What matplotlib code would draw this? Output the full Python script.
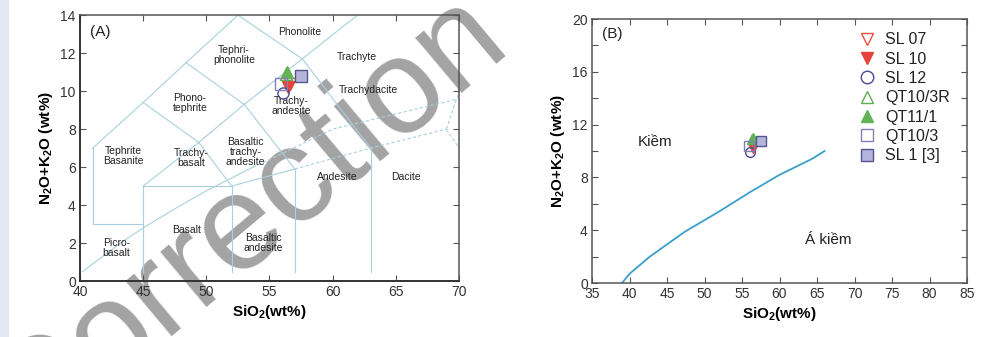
import matplotlib
matplotlib.use("Agg")
import matplotlib.pyplot as plt
from matplotlib.patches import Rectangle
from matplotlib.lines import Line2D

plt.rcParams['font.family'] = ['Liberation Sans', 'DejaVu Sans']
plt.rcParams['mathtext.fontset'] = 'custom'
plt.rcParams['mathtext.rm'] = 'Liberation Sans'
plt.rcParams['mathtext.bf'] = 'Liberation Sans:bold'

# ---------------- data ----------------
samples = ['SL 07', 'SL 10', 'SL 12', 'QT10/3R', 'QT11/1', 'QT10/3', 'SL 1 [3]']
sio2 = [56.6, 56.5, 56.1, 56.3, 56.4, 55.9, 57.5]
alkali = [10.4, 10.2, 9.9, 10.9, 11.0, 10.4, 10.8]

# TAS (Le Bas) field boundaries, panel A
tas_solid = [
    [(41, 3), (41, 7)], [(41, 3), (45, 3)], [(45, 0.5), (45, 5)], [(45, 5), (52, 5)],
    [(52, 0.5), (52, 5)], [(52, 5), (57, 5.9)], [(57, 0.5), (57, 5.9)], [(63, 0.5), (63, 7)],
    [(45, 5), (49.4, 7.3)], [(49.4, 7.3), (52, 5)], [(49.4, 7.3), (53, 9.3)],
    [(53, 9.3), (57, 5.9)], [(53, 9.3), (57.6, 11.7)], [(57.6, 11.7), (63, 7)],
    [(41, 7), (45, 9.4)], [(45, 9.4), (49.4, 7.3)], [(45, 9.4), (48.4, 11.5)],
    [(48.4, 11.5), (53, 9.3)], [(48.4, 11.5), (52.5, 14)], [(52.5, 14), (57.6, 11.7)],
    [(57.6, 11.7), (61, 13.5), (62, 14)],
]
tas_dashed = [
    [(57, 5.9), (63, 7), (69, 8)], [(69, 8), (71.8, 13.5)], [(69, 8), (77, 0)],
]
# Irvine & Baragar alkaline / sub-alkaline divide (panel A)
irvine_a_x = [40.2, 43.2, 45, 48, 50, 53.7, 55, 60, 65, 70]
irvine_a_y = [0.5, 2.0, 2.8, 4.0, 4.75, 6.0, 6.4, 8.0, 8.8, 9.6]

# panel B divide curve
curve_b_x = [39.0, 40.0, 42.7, 47.4, 51.6, 56.1, 60.0, 64.3, 66.0]
curve_b_y = [0.0, 0.7, 2.0, 3.9, 5.3, 6.9, 8.2, 9.4, 10.0]

field_labels = ['(A)', 'Phonolite', 'Tephri-\nphonolite', 'Trachyte', 'Trachydacite',
                'Trachy-\nandesite', 'Phono-\ntephrite', 'Tephrite\nBasanite',
                'Trachy-\nbasalt', 'Basaltic\ntrachy-\nandesite', 'Basalt',
                'Picro-\nbasalt', 'Basaltic\nandesite', 'Andesite', 'Dacite']
field_x = [40.8, 57.4, 52.2, 61.9, 62.8, 56.7, 48.7, 43.4, 48.8, 53.1, 48.4, 42.9, 54.5, 60.4, 65.8]
field_y = [13.1, 13.1, 11.9, 11.8, 10.05, 9.2, 9.4, 6.6, 6.5, 6.8, 2.7, 1.75, 2.0, 5.5, 5.5]

# ---------------- styles ----------------
styles = {
    'SL 07':    dict(marker='v', mfc='none', mec='#e8503f'),
    'SL 10':    dict(marker='v', mfc='#e8433a', mec='#e8433a'),
    'SL 12':    dict(marker='o', mfc='none', mec='#4a4a96'),
    'QT10/3R':  dict(marker='^', mfc='none', mec='#5cb04e'),
    'QT11/1':   dict(marker='^', mfc='#62b356', mec='#62b356'),
    'QT10/3':   dict(marker='s', mfc='none', mec='#8080b8'),
    'SL 1 [3]': dict(marker='s', mfc='#b4b4dc', mec='#55558f'),
}

fig = plt.figure(figsize=(10, 3.37), dpi=100)
fig.patches.append(Rectangle((0, 0), 0.008, 1, transform=fig.transFigure,
                             color='#e4e8f5', zorder=-5))

# watermark
fig.text(0.248, 0.345, 'Correction', rotation=40, fontsize=98,
         color='#a3a3a3', ha='center', va='center', zorder=-1)

axA = fig.add_axes([0.080, 0.166, 0.379, 0.789])
axB = fig.add_axes([0.592, 0.160, 0.375, 0.7834])
for ax in (axA, axB):
    ax.patch.set_alpha(0)
    for s in ax.spines.values():
        s.set_color('#555555')
        s.set_linewidth(1.1)
    ax.tick_params(direction='in', length=4, top=True, right=True,
                   labelsize=10, colors='#555555', labelcolor='#333333', pad=3)

# ---- panel A ----
lc = '#a9d0df'
for seg in tas_solid:
    xs, ys = zip(*seg)
    axA.plot(xs, ys, color=lc, lw=0.8, zorder=1)
for seg in tas_dashed:
    xs, ys = zip(*seg)
    axA.plot(xs, ys, color=lc, lw=0.8, ls=(0, (3, 2)), zorder=1)
axA.plot(irvine_a_x[:6], irvine_a_y[:6], color=lc, lw=0.8, zorder=1)
axA.plot(irvine_a_x[5:], irvine_a_y[5:], color=lc, lw=0.8, ls=(0, (3, 2)), zorder=1)

for t, x, y in zip(field_labels, field_x, field_y):
    if t == '(A)':
        axA.text(x, y, t, fontsize=11, ha='left', va='center', color='#222222')
    else:
        axA.text(x, y, t, fontsize=7.5, ha='center', va='center', color='#222222',
                 linespacing=1.0)

for name, x, y in zip(samples, sio2, alkali):
    axA.plot(x, y, ls='none', ms=8, mew=1.0, zorder=5, clip_on=False, **styles[name])

axA.set_xlim(40, 70)
axA.set_ylim(0, 14)
axA.set_xticks(range(40, 71, 5))
axA.set_yticks(range(0, 15, 2))
axA.spines['left'].set_color('#333333')
axA.spines['bottom'].set_color('#333333')
axA.spines['left'].set_linewidth(1.4)
axA.spines['bottom'].set_linewidth(1.4)
axA.set_xlabel('SiO$_{\\mathbf{2}}$(wt%)', fontsize=11, fontweight='bold', labelpad=3)
axA.set_ylabel('N$_{\\mathbf{2}}$O+K$_{\\mathbf{2}}$O (wt%)', fontsize=11,
               fontweight='bold', labelpad=4)

# ---- panel B ----
axB.plot(curve_b_x, curve_b_y, color='#3a9fcc', lw=1.3, zorder=2)
handles = []
for name, x, y in zip(samples, sio2, alkali):
    axB.plot(x, y, ls='none', ms=7, mew=1.0, zorder=5, **styles[name])
    handles.append(Line2D([], [], ls='none', ms=9, mew=1.0, label=name, **styles[name]))

axB.text(36.3, 18.9, '(B)', fontsize=11, ha='left', va='center', color='#222222')
axB.text(43.4, 10.7, 'Kiềm', fontsize=11, ha='center', va='center', color='#222222')
axB.text(66.5, 3.3, 'Á kiềm', fontsize=11, ha='center', va='center', color='#222222')

axB.set_xlim(35, 85)
axB.set_ylim(0, 20)
axB.set_xticks(range(35, 86, 5))
axB.set_yticks(range(0, 21, 2))
axB.set_yticklabels([str(v) if v % 4 == 0 else '' for v in range(0, 21, 2)])
axB.set_xlabel('SiO$_{\\mathbf{2}}$(wt%)', fontsize=11, fontweight='bold', labelpad=3)
axB.set_ylabel('N$_{\\mathbf{2}}$O+K$_{\\mathbf{2}}$O (wt%)', fontsize=11,
               fontweight='bold', labelpad=4)
axB.legend(handles=handles, loc='upper left', bbox_to_anchor=(0.713, 0.95),
           frameon=False, fontsize=11.5, labelspacing=0.27, handlelength=1.0,
           handletextpad=0.6, borderpad=0, borderaxespad=0, labelcolor='#222222')

fig.savefig('out.png', dpi=100, facecolor='white')
